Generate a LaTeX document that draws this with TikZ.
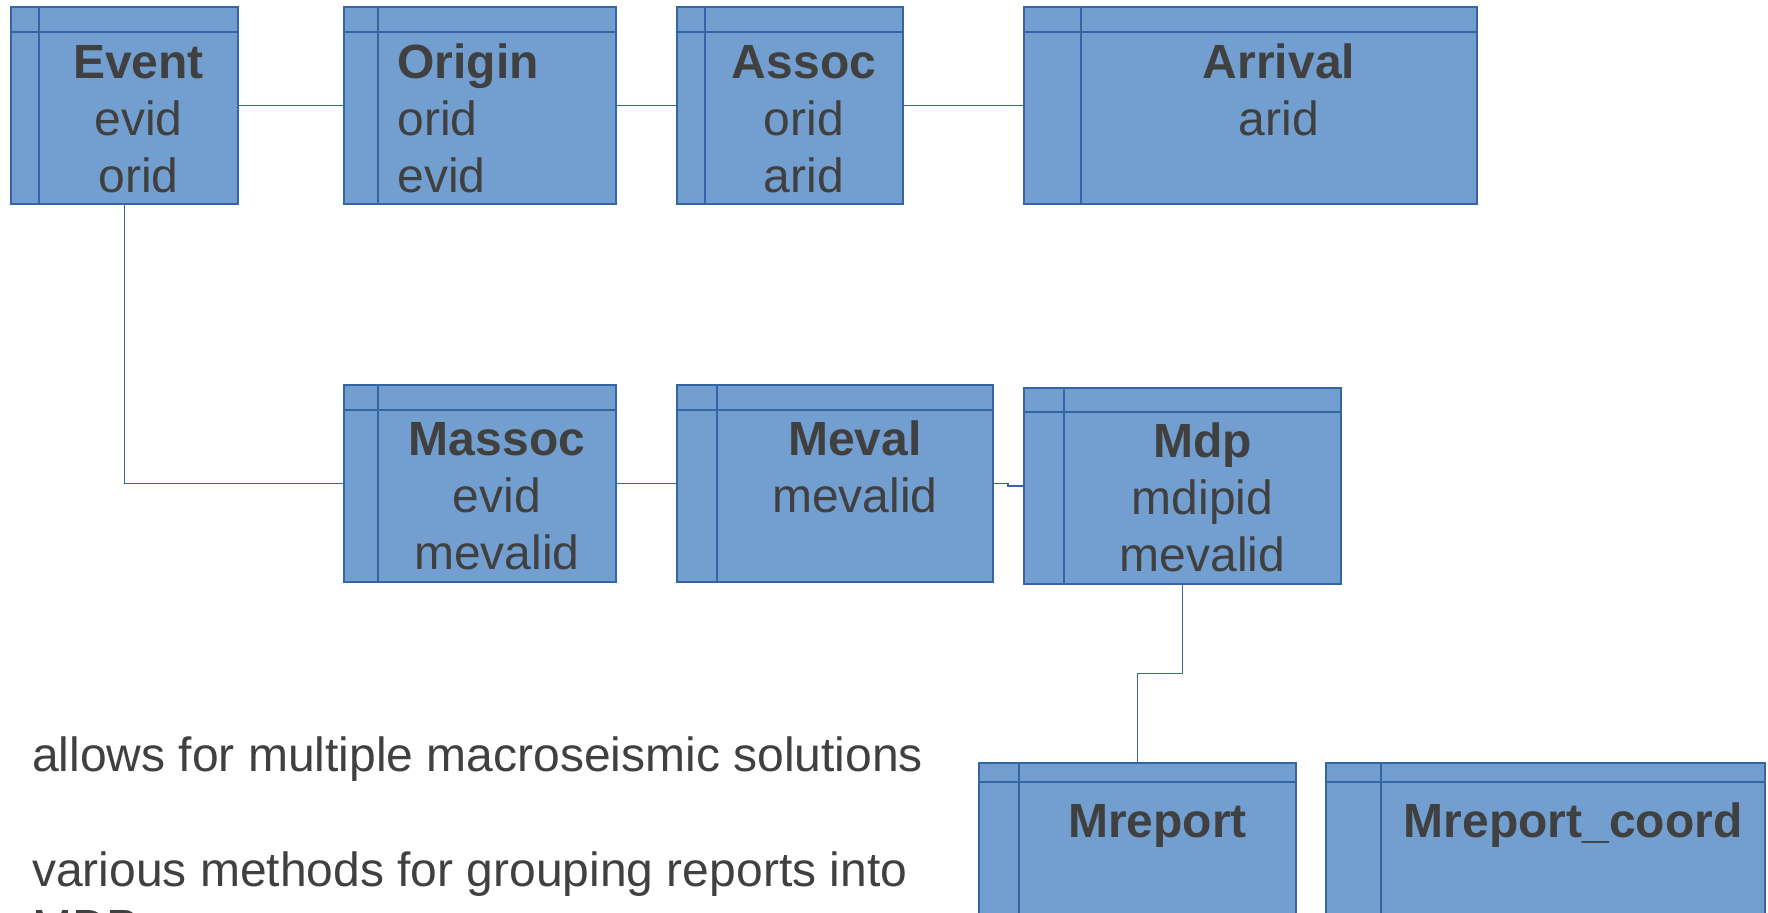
\documentclass[tikz,border=0pt]{standalone}
\usepackage{fontspec}
\setmainfont{Liberation Sans}
\usetikzlibrary{fit}
\definecolor{entfill}{RGB}{114,159,207}
\definecolor{entdraw}{RGB}{52,101,164}
\definecolor{entext}{RGB}{64,64,64}

\begin{document}
\begin{tikzpicture}[x=0.5pt, y=-0.5pt,
	entity/.style = {draw=entdraw, fill=entfill, line width=1pt, inner sep=0pt, outer sep=0pt},
	field/.style = {text=entext, font=\fontsize{24}{28.5}\selectfont, align=center, anchor=base, inner sep=0pt},
	link/.style = {draw=entdraw, line width=0.8pt}]
	\useasboundingbox (0,0) rectangle (1768,913);

	%% Nodes
	\node[entity, fit={(11,7) (238,204)}] (event) {};
	\node[entity, fit={(344,7) (616,204)}] (origin) {};
	\node[entity, fit={(677,7) (903,204)}] (assoc) {};
	\node[entity, fit={(1024,7) (1477,204)}] (arrival) {};

	\node[entity, fit={(344,385) (616,582)}] (massoc) {};
	\node[entity, fit={(677,385) (993,582)}] (meval) {};
	\node[entity, fit={(1024,388) (1341,584)}] (mdp) {};

	\node[entity, fit={(979,763) (1296,940)}] (mreport) {};
	\node[entity, fit={(1326,763) (1765,940)}] (mcoord) {};

	%% header and key column of each table
	\foreach \n/\s/\h in {event/28/25, origin/34/25, assoc/28/25, arrival/57/25,
		massoc/34/25, meval/40/25, mdp/40/24, mreport/40/19, mcoord/55/19}
		\draw[link, line width=1pt] ([xshift=\s*0.5pt]\n.north west) -- ([xshift=\s*0.5pt]\n.south west)
			([yshift=-\h*0.5pt]\n.north west) -- ([yshift=-\h*0.5pt]\n.north east);

	%% Fields (placed at the baseline of their last line)
	\node[field] (event-f) at (138.5,192.5) {\textbf{Event}\\evid\\orid};
	\node[field, align=left, anchor=base west] (origin-f) at (397,192.5) {\textbf{Origin}\\orid\\evid};
	\node[field] (assoc-f) at (804,192.5) {\textbf{Assoc}\\orid\\arid};
	\node[field] (arrival-f) at (1279,135.5) {\textbf{Arrival}\\arid};

	\node[field] (massoc-f) at (497,570) {\textbf{Massoc}\\evid\\mevalid};
	\node[field] (meval-f) at (855,513) {\textbf{Meval}\\mevalid};
	\node[field] (mdp-f) at (1202.5,572) {\textbf{Mdp}\\mdipid\\mevalid};

	\node[field] (mreport-f) at (1157.5,838) {\textbf{Mreport}};
	\node[field] (mcoord-f) at (1573,838) {\textbf{Mreport\_coord}};

	\node[field, align=left, anchor=base west] (note1) at (31.7,772) {allows for multiple macroseismic solutions};
	\node[field, align=left, anchor=base west] (note2) at (31.7,944) {various methods for grouping reports into\\MDP};

	%% Edges
	\draw[link] (event) -- (origin);
	\draw[link] (origin) -- (assoc);
	\draw[link] (assoc) -- (arrival);
	\draw[link] (event) |- (massoc);
	\draw[link] (massoc) -- (meval);
	\draw[link] (meval.east) -- ++(15,0) |- (mdp.west);
	\draw[link] (mdp.south) -- ++(0,89.5) -| (mreport.north);

\end{tikzpicture}
\end{document}
